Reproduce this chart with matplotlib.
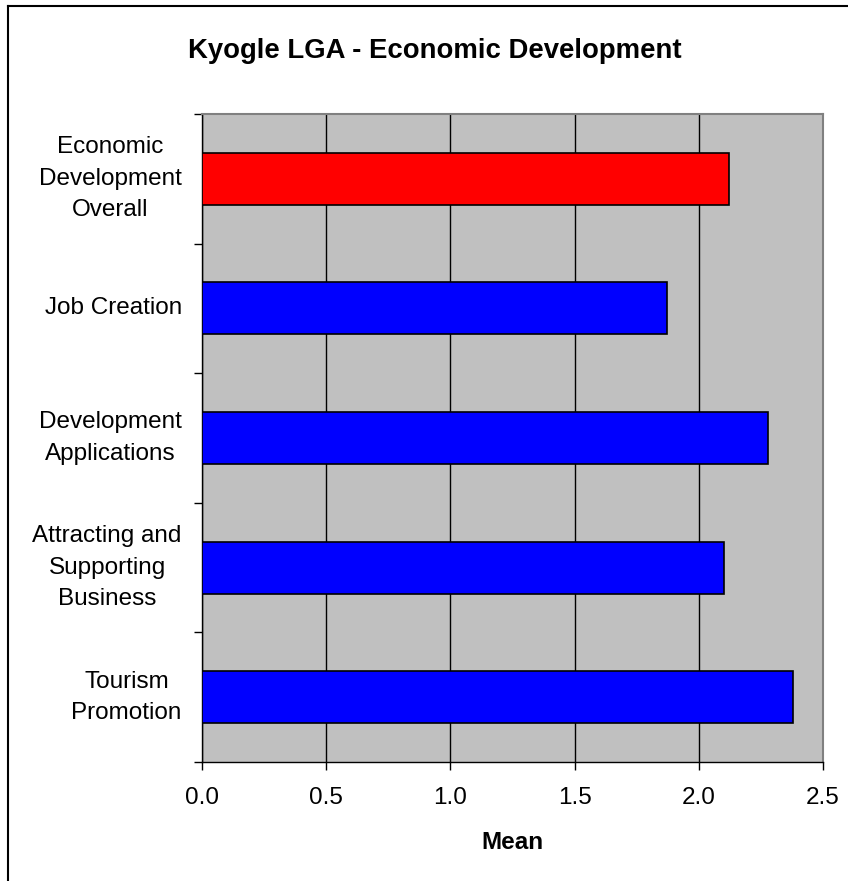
import matplotlib
matplotlib.use("Agg")
import matplotlib.pyplot as plt
from matplotlib.lines import Line2D

plt.rcParams['font.family'] = ['Liberation Sans', 'DejaVu Sans']

# survey means, top to bottom
categories = ["Economic\nDevelopment\nOverall", "Job Creation",
              "Development\nApplications", "Attracting and\nSupporting\nBusiness",
              "Tourism\nPromotion"]
means = [2.12, 1.87, 2.28, 2.10, 2.38]
bar_colors = ["#ff0000", "#0000ff", "#0000ff", "#0000ff", "#0000ff"]
x_ticks = [0.0, 0.5, 1.0, 1.5, 2.0, 2.5]

W, H = 848, 881
fig = plt.figure(figsize=(W / 100, H / 100), dpi=100)
ax = fig.add_axes([202 / W, 1 - 762 / H, (823 - 202) / W, (762 - 114) / H])
ax.set_facecolor("#c0c0c0")

pos = list(range(len(categories)))
ax.barh(pos, means, height=0.4, color=bar_colors, edgecolor="black",
        linewidth=1.2, zorder=3)

ax.set_xlim(0, 2.5)
ax.set_ylim(len(categories) - 0.5, -0.5)
ax.set_xticks(x_ticks)
ax.set_xticklabels([f"{t:.1f}" for t in x_ticks], fontsize=17.5)
ax.xaxis.grid(True, color="black", linewidth=1.0, zorder=1)
ax.set_axisbelow(True)

# category boundaries carry the ticks, labels sit at band centres
ax.set_yticks([p - 0.5 for p in pos] + [len(pos) - 0.5])
ax.set_yticklabels([])
ax.tick_params(axis="y", length=6, width=1, direction="out")
ax.tick_params(axis="x", length=6, width=1, direction="out", pad=12)
for p, lab in zip(pos, categories):
    ax.annotate(lab, xy=(0, p), xycoords=("axes fraction", "data"),
                xytext=(-14.5, 0), textcoords="offset points",
                ha="right", va="center", multialignment="center",
                fontsize=17.5, linespacing=1.55)

ax.set_xlabel("Mean", fontsize=17.5, fontweight="bold", labelpad=16)

for side in ("top", "right"):
    ax.spines[side].set_color("#808080")
    ax.spines[side].set_linewidth(1.5)
for side in ("left", "bottom"):
    ax.spines[side].set_color("black")
    ax.spines[side].set_linewidth(1.0)

fig.text(435 / W, 1 - 51 / H, "Kyogle LGA - Economic Development", ha="center",
         va="center", fontsize=19.8, fontweight="bold")

# chart frame (left and top edges)
fig.add_artist(Line2D([8 / W, 8 / W], [0, 1 - 6 / H], color="black", linewidth=1.5,
                      transform=fig.transFigure))
fig.add_artist(Line2D([8 / W, 1], [1 - 6 / H, 1 - 6 / H], color="black", linewidth=1.5,
                      transform=fig.transFigure))

fig.savefig("out.png", dpi=100)
